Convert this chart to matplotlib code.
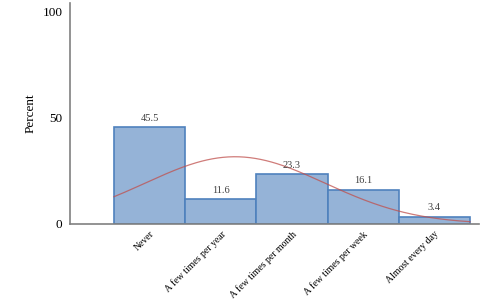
import matplotlib.pyplot as plt
import numpy as np

categories = ['Never', 'A few times per year', 'A few times per month',
              'A few times per week', 'Almost every day']
percent = [45.5, 11.6, 23.3, 16.1, 3.4]
yticks = [0, 50, 100]

plt.rcParams['font.family'] = ['Liberation Serif', 'DejaVu Serif']

fig = plt.figure(figsize=(5, 3.03), dpi=100)
ax = fig.add_axes([0.14, 0.261, 0.818, 0.729])

x = np.arange(len(categories))
ax.bar(x, percent, width=1.0, color='#95b3d7', edgecolor='#4f81bd', linewidth=1.2)
for xi, p in zip(x, percent):
    ax.text(xi, p + 2, f'{p}', ha='center', va='bottom', fontsize=7.5, color='#404040')

# normal curve fitted to the distribution (codes 1..5)
codes = x + 1
w = np.array(percent) / 100
mu = np.sum(codes * w)
sd = np.sqrt(np.sum(w * (codes - mu) ** 2))
xs = np.linspace(0.5, 5.5, 200)
ys = 100 * np.exp(-0.5 * ((xs - mu) / sd) ** 2) / (sd * np.sqrt(2 * np.pi))
ax.plot(xs - 1, ys, color='#c0504d', linewidth=0.9, alpha=0.75)

ax.set_xlim(-1.117, 4.626)
ax.set_ylim(0, 103.8)
ax.set_yticks(yticks)
ax.set_yticklabels([str(t) for t in yticks], fontsize=9.5)
ax.set_xticks(x)
ax.set_xticklabels(categories, rotation=45, ha='right', rotation_mode='anchor', fontsize=7)
ax.tick_params(axis='y', length=0, pad=5.5)
ax.tick_params(axis='x', length=0, pad=4)
ax.set_ylabel('Percent', fontsize=9.5, labelpad=4)

for s in ['top', 'right']:
    ax.spines[s].set_visible(False)
for s in ['left', 'bottom']:
    ax.spines[s].set_color('#808080')
    ax.spines[s].set_linewidth(1.2)

plt.savefig('out.png', dpi=100)
